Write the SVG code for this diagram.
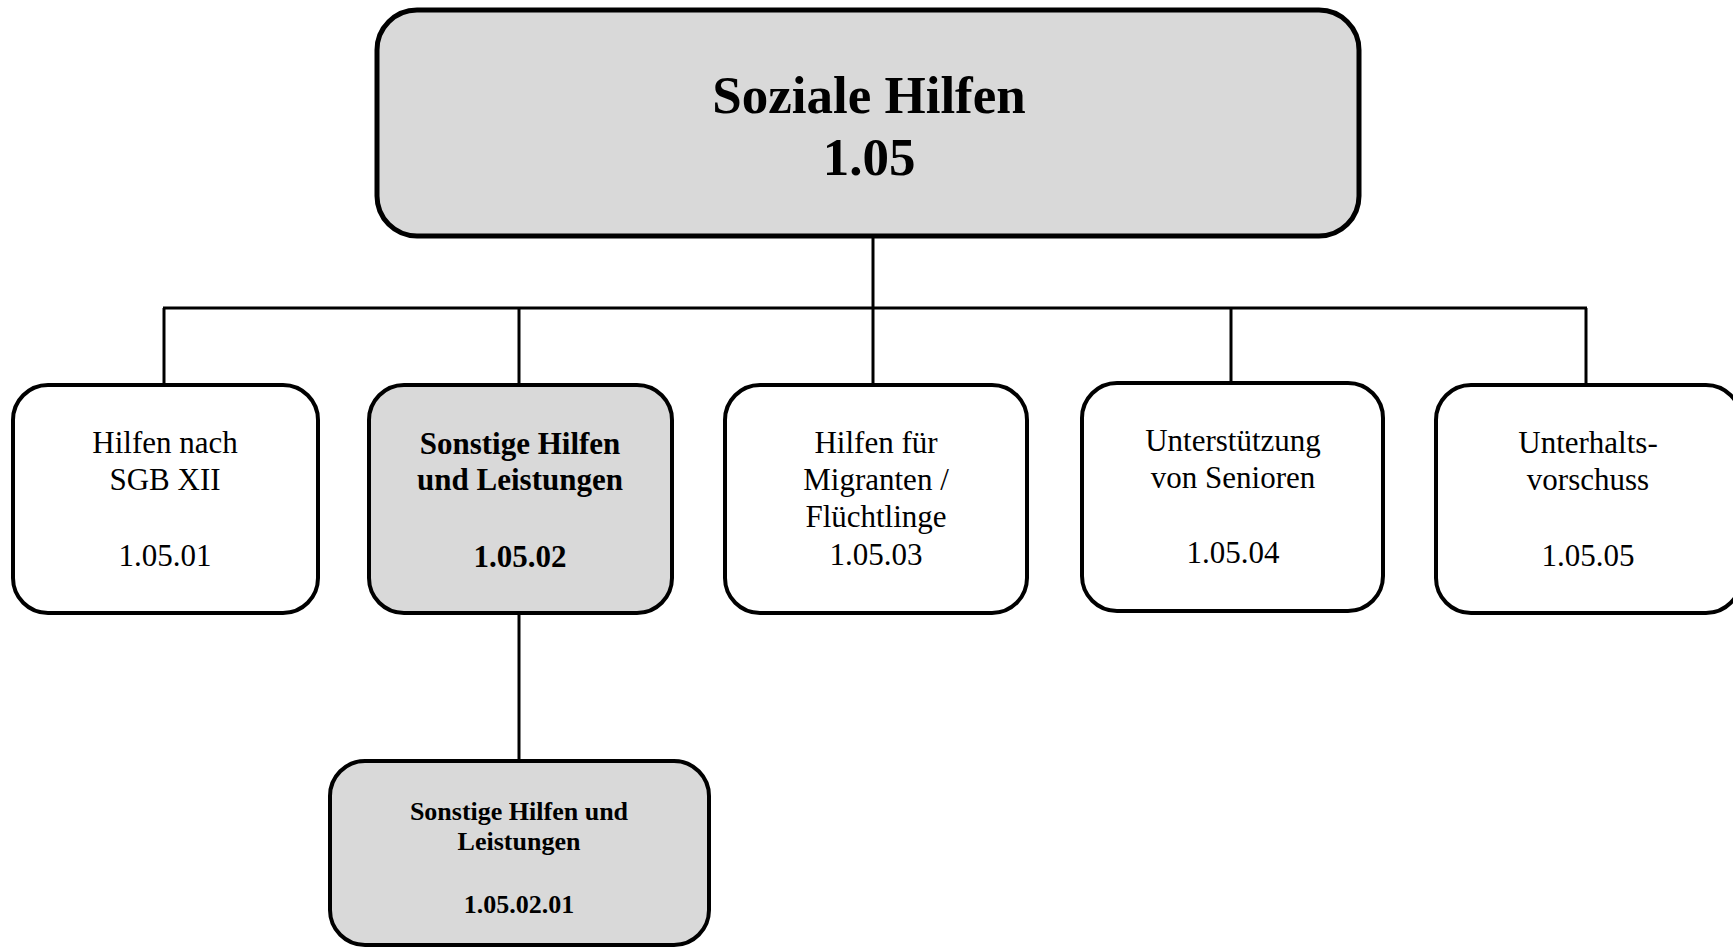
<svg xmlns="http://www.w3.org/2000/svg" width="1733" height="948" viewBox="0 0 1733 948">
<style>
.box{fill:#ffffff;stroke:#000;stroke-width:4}
.grey{fill:#d9d9d9}
.top{stroke-width:5}
.conn line{stroke:#000;stroke-width:3}
text{font-family:"Liberation Serif","Times New Roman",serif;fill:#000;text-anchor:middle}
.r{font-size:31px}
.b{font-size:31px;font-weight:bold}
.t{font-size:53px;font-weight:bold}
.s{font-size:26px;font-weight:bold}
</style>
<rect width="1733" height="948" fill="#ffffff"/>
<g id="connectors" class="conn">
<line x1="873" y1="237" x2="873" y2="385"/>
<line x1="163" y1="308" x2="1587" y2="308"/>
<line x1="164" y1="308" x2="164" y2="385"/>
<line x1="519" y1="308" x2="519" y2="385"/>
<line x1="1231" y1="308" x2="1231" y2="383"/>
<line x1="1586" y1="308" x2="1586" y2="385"/>
<line x1="519" y1="613" x2="519" y2="761"/>
</g>
<g id="n-root">
<rect class="box grey top" x="377" y="10" width="982" height="226" rx="40" ry="40"/>
<text class="t" x="869" y="113">Soziale Hilfen</text>
<text class="t" x="869" y="175">1.05</text>
</g>
<g id="n-1-05-01">
<rect class="box" x="13" y="385" width="305" height="228" rx="35" ry="35"/>
<text class="r" x="165" y="453">Hilfen nach</text>
<text class="r" x="165" y="490">SGB XII</text>
<text class="r" x="165" y="566">1.05.01</text>
</g>
<g id="n-1-05-02">
<rect class="box grey" x="369" y="385" width="303" height="228" rx="35" ry="35"/>
<text class="b" x="520" y="454">Sonstige Hilfen</text>
<text class="b" x="520" y="490">und Leistungen</text>
<text class="b" x="520" y="567">1.05.02</text>
</g>
<g id="n-1-05-03">
<rect class="box" x="725" y="385" width="302" height="228" rx="35" ry="35"/>
<text class="r" x="876" y="453">Hilfen für</text>
<text class="r" x="876" y="490">Migranten /</text>
<text class="r" x="876" y="527">Flüchtlinge</text>
<text class="r" x="876" y="565">1.05.03</text>
</g>
<g id="n-1-05-04">
<rect class="box" x="1082" y="383" width="301" height="228" rx="35" ry="35"/>
<text class="r" x="1233" y="451">Unterstützung</text>
<text class="r" x="1233" y="488">von Senioren</text>
<text class="r" x="1233" y="563">1.05.04</text>
</g>
<g id="n-1-05-05">
<rect class="box" x="1436" y="385" width="305" height="228" rx="35" ry="35"/>
<text class="r" x="1588" y="453">Unterhalts-</text>
<text class="r" x="1588" y="490">vorschuss</text>
<text class="r" x="1588" y="566">1.05.05</text>
</g>
<g id="n-1-05-02-01">
<rect class="box grey" x="330" y="761" width="379" height="184" rx="35" ry="35"/>
<text class="s" x="519" y="820">Sonstige Hilfen und</text>
<text class="s" x="519" y="850">Leistungen</text>
<text class="s" x="519" y="913">1.05.02.01</text>
</g>
</svg>
